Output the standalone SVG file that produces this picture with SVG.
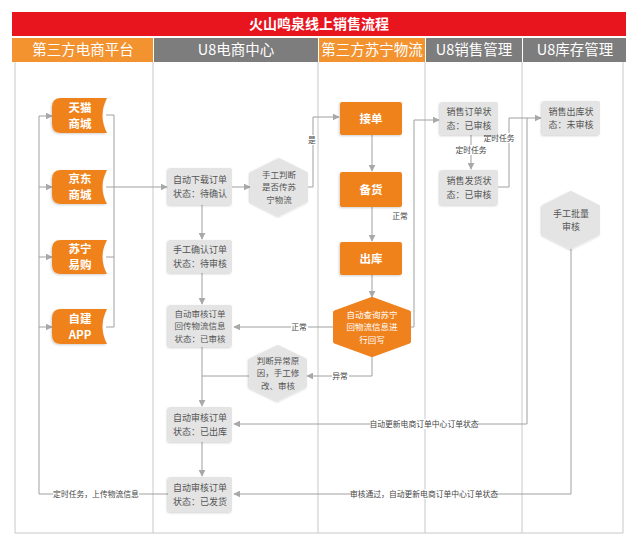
<svg xmlns="http://www.w3.org/2000/svg" width="640" height="545" viewBox="0 0 640 545">
<defs>
<style>
.lane{fill:none;stroke:#c8c8c8;stroke-width:1}
.hdr{font-family:"Noto Sans CJK SC","Noto Sans",sans-serif;font-size:14.5px;fill:#fff;text-anchor:middle}
.box{fill:#e4e4e4;filter:url(#sh)}
.bt{font-family:"Noto Sans CJK SC","Noto Sans",sans-serif;font-size:9px;fill:#555;text-anchor:middle}
.bt3{font-family:"Noto Sans CJK SC","Noto Sans",sans-serif;font-size:8.5px;fill:#555;text-anchor:middle}
.ob{fill:#f0821e;filter:url(#sh)}
.ot{font-family:"Noto Sans CJK SC","Noto Sans",sans-serif;font-size:11.5px;font-weight:bold;fill:#fff;text-anchor:middle}
.oht{font-family:"Noto Sans CJK SC","Noto Sans",sans-serif;font-size:8.5px;fill:#fff;text-anchor:middle}
.hx{fill:#e4e4e4;stroke:#e4e4e4;stroke-width:4;stroke-linejoin:round;filter:url(#sh)}
.ohx{fill:#f0821e;stroke:#f0821e;stroke-width:4;stroke-linejoin:round}
.c{fill:none;stroke:#a0a0a0;stroke-width:1}
.a{marker-end:url(#ar)}
.lb{font-family:"Noto Sans CJK SC","Noto Sans",sans-serif;font-size:7.8px;fill:#444;text-anchor:middle}
.lbg{fill:#fff}
</style>
<marker id="ar" viewBox="0 0 10 10" refX="9" refY="5" markerWidth="7" markerHeight="7" orient="auto" markerUnits="userSpaceOnUse">
<path d="M0,0 L10,5 L0,10 Z" fill="#a8a8a8"/>
</marker>
<filter id="sh" x="-20%" y="-20%" width="140%" height="140%">
<feDropShadow dx="-1" dy="1" stdDeviation="1" flood-color="#000" flood-opacity="0.18"/>
</filter>
</defs>
<rect x="0" y="0" width="640" height="545" fill="#fff"/>

<g id="title">
<rect x="12" y="12" width="614" height="24" fill="#e8141e"/>
<text x="319" y="29" font-family="Noto Sans CJK SC, sans-serif" font-size="14px" font-weight="bold" fill="#fff" text-anchor="middle">火山鸣泉线上销售流程</text>
</g>

<g id="headers">
<rect x="12" y="38" width="141" height="24" fill="#f39330"/>
<rect x="154" y="38" width="164" height="24" fill="#7d7d7d"/>
<rect x="319" y="38" width="106" height="24" fill="#f39330"/>
<rect x="426" y="38" width="96" height="24" fill="#7d7d7d"/>
<rect x="523" y="38" width="103" height="24" fill="#7d7d7d"/>
<text class="hdr" x="83" y="55">第三方电商平台</text>
<text class="hdr" x="236" y="55">U8电商中心</text>
<text class="hdr" x="372" y="55">第三方苏宁物流</text>
<text class="hdr" x="474" y="55">U8销售管理</text>
<text class="hdr" x="575" y="55">U8库存管理</text>
</g>

<g id="lanes">
<path class="lane" d="M15 62 V533 H623 V62"/>
<path class="lane" d="M153 62 V533 M318 62 V533 M425 62 V533 M522 62 V533"/>
</g>

<g id="connectors">
<path class="c" d="M168 494 H39 V116"/>
<path class="c a" d="M39 116 H52"/>
<path class="c a" d="M39 187 H52"/>
<path class="c a" d="M39 257 H52"/>
<path class="c a" d="M39 327 H52"/>
<path class="c" d="M106 115 H114 V327 H106 M106 257 H114"/>
<path class="c a" d="M106 187 H167"/>
<path class="c a" d="M232 187 H250"/>
<path class="c a" d="M307 187 H313 V117 H339"/>
<path class="c a" d="M372 135 V171"/>
<path class="c a" d="M372 207 V241"/>
<path class="c a" d="M372 275 V297"/>
<path class="c a" d="M410 327 H414 V120 H439"/>
<path class="c a" d="M334 327 H234"/>
<path class="c a" d="M372 356 V376 H307"/>
<path class="c" d="M251 376 H202"/>
<path class="c a" d="M202 205 V239"/>
<path class="c a" d="M202 273 V304"/>
<path class="c a" d="M202 347 V406"/>
<path class="c a" d="M202 442 V476"/>
<path class="c a" d="M471 135 V169"/>
<path class="c a" d="M498 187 H509 V118 H541"/>
<path class="c a" d="M527 118 V424 H234"/>
<path class="c a" d="M571 248 V494 H234"/>
<rect class="lbg" x="53" y="489" width="86" height="10"/>
<text class="lb" x="96" y="497">定时任务，上传物流信息</text>
<rect class="lbg" x="308" y="135" width="9" height="10"/>
<text class="lb" x="312" y="143">是</text>
<text class="lb" x="400" y="219">正常</text>
<rect class="lbg" x="291" y="322" width="17" height="10"/>
<text class="lb" x="299" y="330">正常</text>
<rect class="lbg" x="332" y="371" width="17" height="10"/>
<text class="lb" x="340" y="379">异常</text>
<rect class="lbg" x="456" y="145" width="30" height="10"/>
<text class="lb" x="471" y="153">定时任务</text>
<rect class="lbg" x="484" y="133" width="30" height="10"/>
<text class="lb" x="499" y="141">定时任务</text>
<rect class="lbg" x="370" y="419" width="108" height="10"/>
<text class="lb" x="424" y="427">自动更新电商订单中心订单状态</text>
<rect class="lbg" x="352" y="489" width="144" height="10"/>
<text class="lb" x="424" y="497">审核通过，自动更新电商订单中心订单状态</text>
</g>

<g id="tmall">
<path class="ob" d="M61 98 H107 Q98 115.5 107 133 H61 Q52 133 52 124 V107 Q52 98 61 98 Z"/>
<text class="ot" x="80" y="111.5">天猫</text>
<text class="ot" x="80" y="127.5">商城</text>
</g>
<g id="jd">
<path class="ob" d="M61 170 H107 Q98 187 107 204 H61 Q52 204 52 195 V179 Q52 170 61 170 Z"/>
<text class="ot" x="80" y="183">京东</text>
<text class="ot" x="80" y="199">商城</text>
</g>
<g id="suning">
<path class="ob" d="M61 240 H107 Q98 257 107 274 H61 Q52 274 52 265 V249 Q52 240 61 240 Z"/>
<text class="ot" x="80" y="253">苏宁</text>
<text class="ot" x="80" y="269">易购</text>
</g>
<g id="app">
<path class="ob" d="M61 309 H107 Q98 326.5 107 344 H61 Q52 344 52 335 V318 Q52 309 61 309 Z"/>
<text class="ot" x="80" y="322.5">自建</text>
<text class="ot" x="80" y="338.5">APP</text>
</g>

<g id="download">
<rect class="box" x="168" y="168" width="64" height="37" rx="2"/>
<text class="bt" x="200" y="183">自动下载订单</text>
<text class="bt" x="200" y="196.5">状态：待确认</text>
</g>
<g id="confirm">
<rect class="box" x="168" y="240" width="64" height="33" rx="2"/>
<text class="bt" x="200" y="253">手工确认订单</text>
<text class="bt" x="200" y="266.5">状态：待审核</text>
</g>
<g id="audit1">
<rect class="box" x="168" y="305" width="64" height="42" rx="2"/>
<text class="bt3" x="200" y="316.5">自动审核订单</text>
<text class="bt3" x="200" y="329">回传物流信息</text>
<text class="bt3" x="200" y="341.5">状态：已审核</text>
</g>
<g id="judge1">
<polygon class="hx" points="279,160 306,173.5 306,200.5 279,214 252,200.5 252,173.5"/>
<text class="bt3" x="279" y="177.5">手工判断</text>
<text class="bt3" x="279" y="190">是否传苏</text>
<text class="bt3" x="279" y="202.5">宁物流</text>
</g>
<g id="judge2">
<polygon class="hx" points="278,347 305,360 305,386 278,399 251,386 251,360"/>
<text class="bt3" x="278" y="363.5">判断异常原</text>
<text class="bt3" x="278" y="376">因，手工修</text>
<text class="bt3" x="278" y="388.5">改、审核</text>
</g>
<g id="audit2">
<rect class="box" x="168" y="407" width="64" height="35" rx="2"/>
<text class="bt" x="200" y="421">自动审核订单</text>
<text class="bt" x="200" y="434.5">状态：已出库</text>
</g>
<g id="audit3">
<rect class="box" x="168" y="477" width="64" height="35" rx="2"/>
<text class="bt" x="200" y="491">自动审核订单</text>
<text class="bt" x="200" y="504.5">状态：已发货</text>
</g>

<g id="receive">
<rect class="ob" x="340" y="102" width="62" height="33" rx="2"/>
<text class="ot" x="371" y="123">接单</text>
</g>
<g id="prepare">
<rect class="ob" x="340" y="172" width="62" height="35" rx="2"/>
<text class="ot" x="371" y="194">备货</text>
</g>
<g id="outbound">
<rect class="ob" x="340" y="242" width="62" height="33" rx="2"/>
<text class="ot" x="371" y="263">出库</text>
</g>
<g id="query">
<polygon class="ohx" points="372,299 409,312.5 409,341.5 372,355 335,341.5 335,312.5"/>
<text class="oht" x="372" y="317.5">自动查询苏宁</text>
<text class="oht" x="372" y="330">回物流信息进</text>
<text class="oht" x="372" y="342.5">行回写</text>
</g>

<g id="salesorder">
<rect class="box" x="440" y="102" width="58" height="33" rx="2"/>
<text class="bt" x="469" y="115">销售订单状</text>
<text class="bt" x="469" y="128.5">态：已审核</text>
</g>
<g id="salesship">
<rect class="box" x="440" y="170" width="58" height="35" rx="2"/>
<text class="bt" x="469" y="184">销售发货状</text>
<text class="bt" x="469" y="197.5">态：已审核</text>
</g>
<g id="stockout">
<rect class="box" x="542" y="101" width="58" height="34" rx="2"/>
<text class="bt" x="571" y="114.5">销售出库状</text>
<text class="bt" x="571" y="128">态：未审核</text>
</g>
<g id="batch">
<polygon class="hx" points="571,193 598,206.5 598,233.5 571,247 544,233.5 544,206.5"/>
<text class="bt" x="571" y="216.5">手工批量</text>
<text class="bt" x="571" y="230">审核</text>
</g>
</svg>
